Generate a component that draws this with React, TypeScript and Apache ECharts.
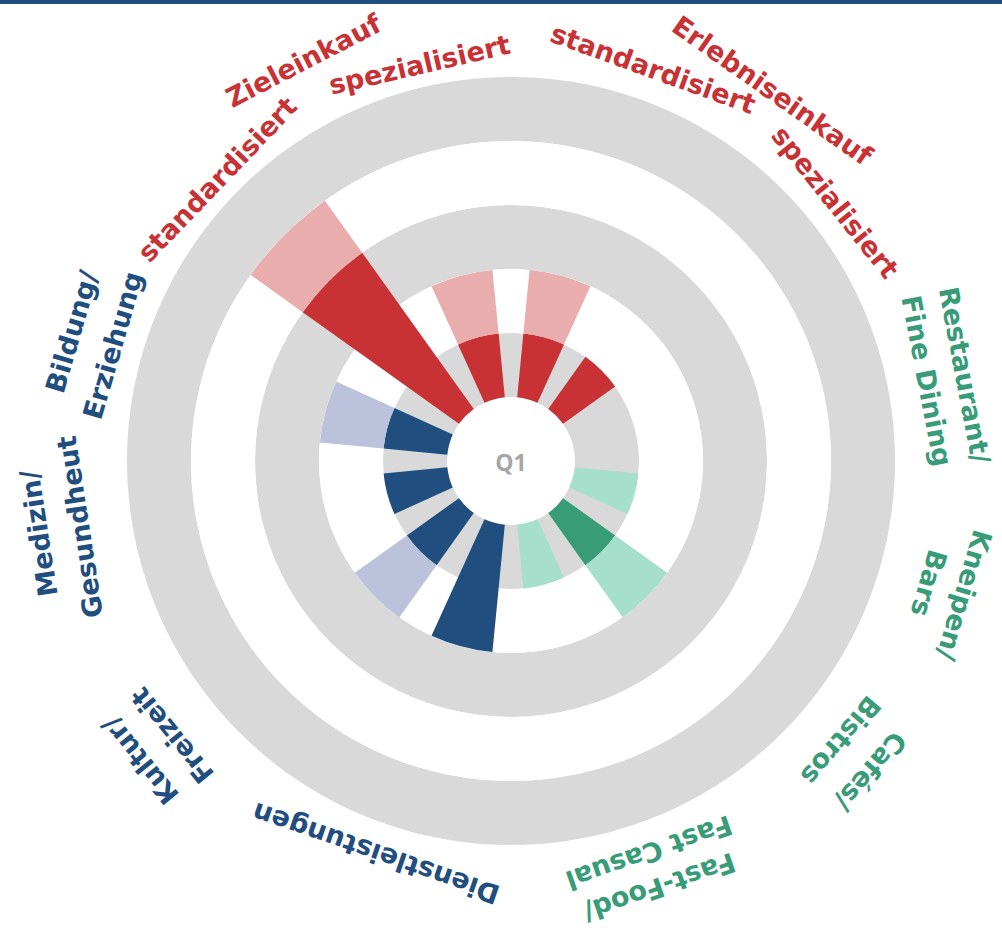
import React, { useEffect, useRef } from 'react';
import * as echarts from 'echarts';

// ---------- data ----------
const categories = [
  'Erlebniseinkauf standardisiert',
  'Erlebniseinkauf spezialisiert',
  'Restaurant/ Fine Dining',
  'Kneipen/ Bars',
  'Cafés/ Bistros',
  'Fast-Food/ Fast Casual',
  'Dienstleistungen',
  'Kultur/ Freizeit',
  'Medizin/ Gesundheut',
  'Bildung/ Erziehung',
  'Zieleinkauf standardisiert',
  'Zieleinkauf spezialisiert',
];
const categoryGroup = [
  'retail', 'retail', 'gastro', 'gastro', 'gastro', 'gastro',
  'service', 'service', 'service', 'service', 'retail', 'retail',
];
// inner (dark) value and outer total (light) value per category
const darkValues = [1, 1, 0, 0, 1, 0, 2, 1, 1, 1, 3, 1];
const lightValues = [2, 0, 0, 1, 2, 1, 0, 2, 0, 2, 4, 2];
const radiusTicks = { min: 0, max: 5, interval: 1 };
const centerLabel = 'Q1';

const labelTexts = [
  'Erlebniseinkauf', 'standardisiert', 'spezialisiert',
  'Zieleinkauf', 'standardisiert', 'spezialisiert',
  'Restaurant/', 'Fine Dining',
  'Kneipen/', 'Bars',
  'Cafés/', 'Bistros',
  'Fast-Food/', 'Fast Casual',
  'Dienstleistungen',
  'Kultur/', 'Freizeit',
  'Medizin/', 'Gesundheut',
  'Bildung/', 'Erziehung',
];
const labelGroup = [
  'retail', 'retail', 'retail', 'retail', 'retail', 'retail',
  'gastro', 'gastro', 'gastro', 'gastro', 'gastro', 'gastro', 'gastro', 'gastro',
  'service', 'service', 'service', 'service', 'service', 'service', 'service',
];

// ---------- layout & style ----------
const CENTER = [511, 461];
const RADIUS = [64, 384];
// angle (deg, clockwise from top) and arc radius of each label line
const labelPlacement = [
  [35.2, 461], [19.9, 424], [51.4, 420],
  [-27.4, 455], [-46.2, 414], [-13, 412],
  [79.3, 466], [79.1, 428],
  [106.5, 475], [106.3, 436],
  [130.8, 476], [130.3, 434],
  [160.8, 455], [160.6, 420],
  [199, 425],
  [231.1, 478], [231, 438],
  [261.3, 480], [261.3, 441],
  [286.4, 460], [286.2, 418],
];
const palette: Record<string, { dark: string; light: string; text: string }> = {
  retail: { dark: '#c83235', light: '#eaadad', text: '#c83235' },
  gastro: { dark: '#379c77', light: '#a6dfcc', text: '#379c77' },
  service: { dark: '#1f4e7f', light: '#bcc2dc', text: '#1f4e7f' },
};
const LABEL_FONT = 'DejaVu Sans';
const LABEL_SIZE = 27;

export default function App() {
  const ref = useRef<HTMLDivElement>(null);

  useEffect(() => {
    if (!ref.current) return;
    const chart = echarts.init(ref.current, null, { renderer: 'svg' });

    const ctx = document.createElement('canvas').getContext('2d');
    if (ctx) ctx.font = `bold ${LABEL_SIZE}px "${LABEL_FONT}"`;

    const labelGraphics = labelTexts.map((text, i) => {
      const [angle, r] = labelPlacement[i];
      const L = ctx ? ctx.measureText(text).width : text.length * LABEL_SIZE * 0.6;
      const sag = (L * L) / (8 * r);
      const d = r - sag / 2;
      const th = (angle * Math.PI) / 180;
      return {
        type: 'text',
        x: CENTER[0] + d * Math.sin(th),
        y: CENTER[1] - d * Math.cos(th),
        rotation: -th,
        silent: true,
        style: {
          text,
          fill: palette[labelGroup[i]].text,
          fontFamily: LABEL_FONT,
          fontWeight: 'bold',
          fontSize: LABEL_SIZE,
          align: 'center',
          verticalAlign: 'middle',
          textAlign: 'center',
          textVerticalAlign: 'middle',
        },
      };
    });

    const outerPart = lightValues.map((v, i) => Math.max(0, v - darkValues[i]));

    chart.setOption({
      animation: false,
      backgroundColor: '#ffffff',
      polar: { center: CENTER, radius: RADIUS },
      angleAxis: {
        type: 'category',
        data: categories,
        startAngle: 90,
        clockwise: true,
        axisLine: { show: false },
        axisTick: { show: false },
        axisLabel: { show: false },
        splitLine: { show: false },
        splitArea: { show: false },
      },
      radiusAxis: {
        type: 'value',
        min: radiusTicks.min,
        max: radiusTicks.max,
        interval: radiusTicks.interval,
        axisLine: { show: false },
        axisTick: { show: false },
        axisLabel: { show: false },
        splitLine: { show: false },
        splitArea: { show: true, areaStyle: { color: ['#d9d9d9', '#ffffff'] } },
      },
      series: [
        {
          type: 'bar',
          name: 'dark',
          coordinateSystem: 'polar',
          stack: 'total',
          barWidth: '63%',
          data: darkValues.map((v, i) => ({
            value: v,
            itemStyle: { color: palette[categoryGroup[i]].dark },
          })),
        },
        {
          type: 'bar',
          name: 'light',
          coordinateSystem: 'polar',
          stack: 'total',
          barWidth: '63%',
          data: outerPart.map((v, i) => ({
            value: v,
            itemStyle: { color: palette[categoryGroup[i]].light },
          })),
        },
      ],
      graphic: [
        {
          type: 'rect',
          shape: { x: 0, y: 0, width: 1002, height: 4 },
          style: { fill: '#1f4e7f' },
          silent: true,
        },
        {
          type: 'text',
          x: CENTER[0],
          y: CENTER[1] + 1,
          silent: true,
          style: {
            text: centerLabel,
            fill: '#a6a6a6',
            fontFamily: 'Open Sans',
            fontWeight: 'bold',
            fontSize: 23,
            align: 'center',
            verticalAlign: 'middle',
            textAlign: 'center',
            textVerticalAlign: 'middle',
          },
        },
        ...labelGraphics,
      ],
    });

    return () => chart.dispose();
  }, []);

  return (
    <div
      ref={ref}
      style={{ position: 'fixed', left: 0, top: 0, width: 1002, height: 930, background: '#fff' }}
    />
  );
}
